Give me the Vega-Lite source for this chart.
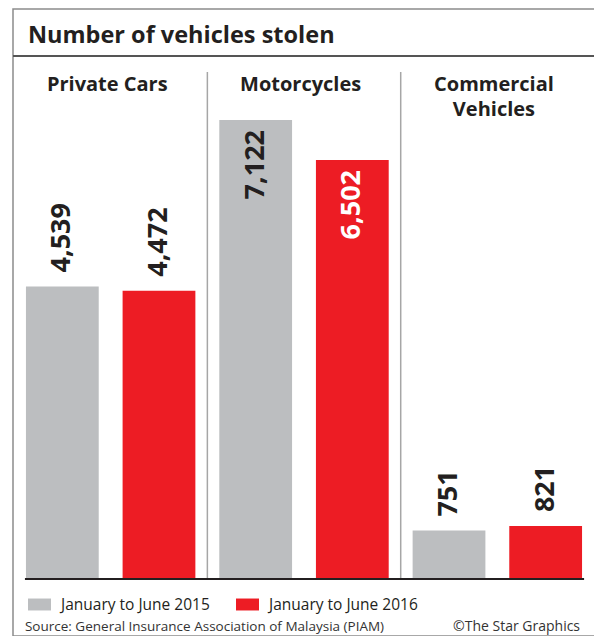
{
  "$schema": "https://vega.github.io/schema/vega-lite/v6.json",
  "width": 582,
  "height": 627,
  "padding": {"left": 12, "top": 9, "right": 0, "bottom": 0},
  "background": "white",
  "config": {
    "view": {"stroke": "#8c8c8c", "strokeWidth": 1.5},
    "font": "Open Sans",
    "text": {"font": "Open Sans", "color": "#231f20"}
  },
  "datasets": {
    "bars": [
      {"cat": "Private Cars", "year": "January to June 2015", "value": 4539},
      {"cat": "Private Cars", "year": "January to June 2016", "value": 4472},
      {"cat": "Motorcycles", "year": "January to June 2015", "value": 7122},
      {"cat": "Motorcycles", "year": "January to June 2016", "value": 6502},
      {"cat": "Commercial Vehicles", "year": "January to June 2015", "value": 751},
      {"cat": "Commercial Vehicles", "year": "January to June 2016", "value": 821}
    ],
    "headers": [
      {"cat": "Private Cars", "label": "Private Cars"},
      {"cat": "Motorcycles", "label": "Motorcycles"},
      {"cat": "Commercial Vehicles", "label": "Commercial\nVehicles"}
    ],
    "separators": [
      {"cat": "Private Cars"},
      {"cat": "Motorcycles"}
    ],
    "title": [{"cat": "Private Cars", "label": "Number of vehicles stolen"}],
    "source": [{"cat": "Private Cars", "label": "Source: General Insurance Association of Malaysia (PIAM)"}],
    "credit": [{"cat": "Commercial Vehicles", "label": "©The Star Graphics"}],
    "one": [{}]
  },
  "layer": [
    {
      "data": {"name": "bars"},
      "mark": {"type": "bar"},
      "encoding": {
        "x": {
          "field": "cat", "type": "nominal", "axis": null,
          "scale": {"domain": ["Private Cars", "Motorcycles", "Commercial Vehicles"], "paddingInner": 0.1237, "paddingOuter": 0.067}
        },
        "xOffset": {
          "field": "year", "type": "nominal",
          "scale": {"paddingInner": 0.247, "paddingOuter": 0}
        },
        "y": {
          "field": "value", "type": "quantitative", "axis": null,
          "scale": {"domain": [-884, 8844], "nice": false, "zero": false}
        },
        "color": {
          "field": "year", "type": "nominal",
          "scale": {"range": ["#bcbec0", "#ed1c24"]},
          "legend": {
            "orient": "none", "legendX": 15, "legendY": 584, "direction": "horizontal",
            "title": null,
            "symbolType": "M-1,-0.52H1V0.52H-1Z", "symbolSize": 529, "symbolStrokeWidth": 0, "symbolOpacity": 1,
            "labelFont": "Open Sans", "labelFontSize": 15.5, "labelColor": "#231f20",
            "labelOffset": 10, "columnPadding": 26, "padding": 0, "labelLimit": 300
          }
        }
      }
    },
    {
      "data": {"name": "one"},
      "mark": {"type": "rule", "color": "#555555", "strokeWidth": 2},
      "encoding": {"y": {"datum": 8115}}
    },
    {
      "data": {"name": "separators"},
      "mark": {"type": "rule", "color": "#a6a6a6", "strokeWidth": 1.5},
      "encoding": {
        "x": {"field": "cat", "type": "nominal", "bandPosition": 1.0708},
        "y": {"datum": 7867},
        "y2": {"datum": 0}
      }
    },
    {
      "data": {"name": "separators"},
      "transform": [{"filter": "datum.cat === 'Private Cars'"}],
      "mark": {"type": "rule", "color": "#231f20", "strokeWidth": 2},
      "encoding": {
        "x": {"datum": "Private Cars", "bandPosition": -0.006},
        "x2": {"datum": "Commercial Vehicles", "bandPosition": 1.012},
        "y": {"datum": 0}
      }
    },
    {
      "data": {"name": "bars"},
      "transform": [{"filter": "datum.value < 6000"}],
      "mark": {"type": "text", "align": "left", "baseline": "middle", "angle": 270, "dx": 14, "fontSize": 27, "fontWeight": "bold", "color": "#231f20"},
      "encoding": {
        "x": {"field": "cat", "type": "nominal"},
        "xOffset": {"field": "year", "type": "nominal"},
        "y": {"field": "value", "type": "quantitative"},
        "text": {"field": "value", "type": "quantitative", "format": ","}
      }
    },
    {
      "data": {"name": "bars"},
      "transform": [{"filter": "datum.value >= 6000"}],
      "mark": {"type": "text", "align": "right", "baseline": "middle", "angle": 270, "dx": -10, "fontSize": 27, "fontWeight": "bold"},
      "encoding": {
        "x": {"field": "cat", "type": "nominal"},
        "xOffset": {"field": "year", "type": "nominal"},
        "y": {"field": "value", "type": "quantitative"},
        "text": {"field": "value", "type": "quantitative", "format": ","},
        "color": {"condition": {"test": "datum.year === 'January to June 2016'", "value": "#ffffff"}, "value": "#231f20"}
      }
    },
    {
      "data": {"name": "title"},
      "mark": {"type": "text", "align": "left", "baseline": "alphabetic", "dx": 2, "fontSize": 23.5, "fontWeight": "bold", "color": "#231f20"},
      "encoding": {
        "x": {"field": "cat", "type": "nominal", "bandPosition": 0},
        "y": {"datum": 8317},
        "text": {"field": "label"}
      }
    },
    {
      "data": {"name": "headers"},
      "mark": {"type": "text", "align": "center", "baseline": "alphabetic", "fontSize": 20, "fontWeight": "bold", "lineBreak": "\n", "lineHeight": 25, "color": "#231f20"},
      "encoding": {
        "x": {"field": "cat", "type": "nominal", "bandPosition": 0.48},
        "y": {"datum": 7572},
        "text": {"field": "label"}
      }
    },
    {
      "data": {"name": "source"},
      "mark": {"type": "text", "align": "left", "baseline": "alphabetic", "dx": -1, "fontSize": 13.5, "color": "#333333"},
      "encoding": {
        "x": {"field": "cat", "type": "nominal", "bandPosition": 0},
        "y": {"datum": -807},
        "text": {"field": "label"}
      }
    },
    {
      "data": {"name": "credit"},
      "mark": {"type": "text", "align": "right", "baseline": "alphabetic", "dx": -2, "fontSize": 14, "color": "#333333"},
      "encoding": {
        "x": {"field": "cat", "type": "nominal", "bandPosition": 1},
        "y": {"datum": -807},
        "text": {"field": "label"}
      }
    }
  ]
}
